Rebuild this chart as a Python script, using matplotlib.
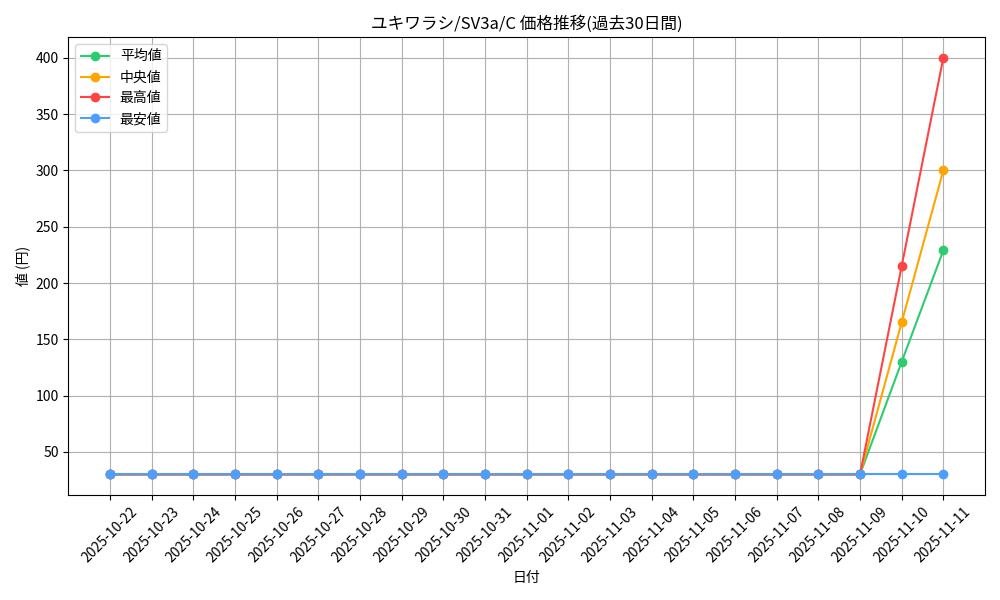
import matplotlib
matplotlib.use("Agg")
import matplotlib.pyplot as plt

plt.rcParams['font.family'] = ['Noto Sans CJK JP', 'DejaVu Sans']

dates = ["2025-10-22","2025-10-23","2025-10-24","2025-10-25","2025-10-26","2025-10-27","2025-10-28",
         "2025-10-29","2025-10-30","2025-10-31","2025-11-01","2025-11-02","2025-11-03","2025-11-04",
         "2025-11-05","2025-11-06","2025-11-07","2025-11-08","2025-11-09","2025-11-10","2025-11-11"]
mean_vals = [30]*19 + [130, 229]
median_vals = [30]*19 + [165, 300]
max_vals = [30]*19 + [215, 400]
min_vals = [30]*19 + [30, 30]

fig, ax = plt.subplots(figsize=(10, 6), dpi=100)
x = range(len(dates))
ax.plot(x, mean_vals, marker='o', color='#2ecc71', label='平均値')
ax.plot(x, median_vals, marker='o', color='#ffa500', label='中央値')
ax.plot(x, max_vals, marker='o', color='#ff4444', label='最高値')
ax.plot(x, min_vals, marker='o', color='#4d9fff', label='最安値')
ax.set_xticks(list(x))
ax.set_xticklabels(dates, rotation=45)
ax.set_title('ユキワラシ/SV3a/C 価格推移(過去30日間)')
ax.set_xlabel('日付')
ax.set_ylabel('値 (円)')
ax.grid(True)
ax.legend(loc='upper left')
fig.tight_layout()
fig.savefig('out.png')
